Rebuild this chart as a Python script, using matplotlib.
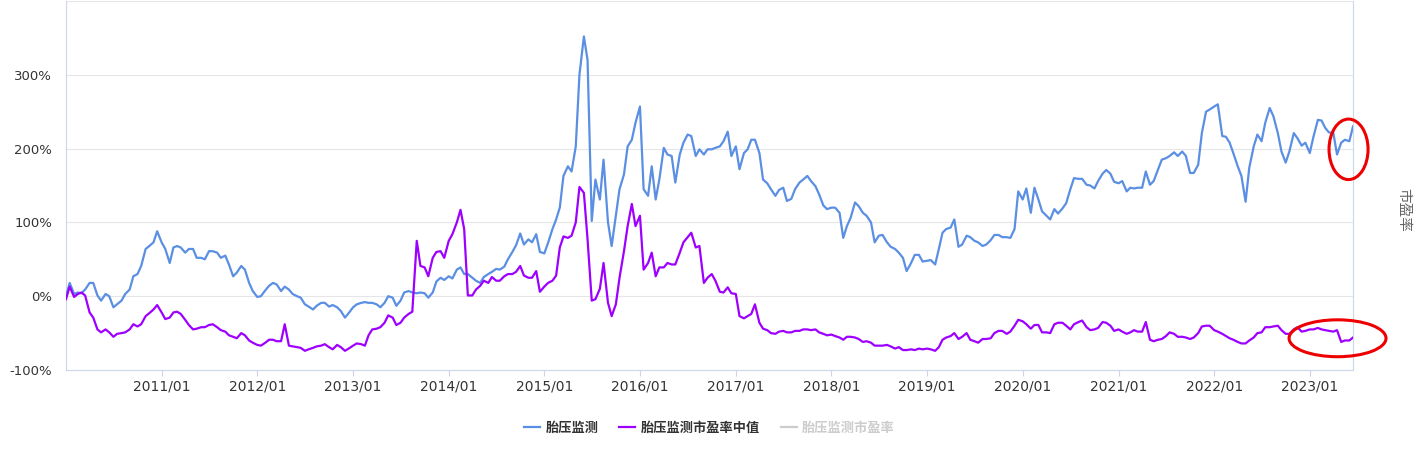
import numpy as np
import pandas as pd
import matplotlib
matplotlib.use('Agg')
import matplotlib.pyplot as plt
import matplotlib.dates as mdates
from matplotlib.patches import Ellipse
from matplotlib.lines import Line2D

plt.rcParams['font.family'] = ['DejaVu Sans', 'Noto Sans CJK SC']

# semi-monthly samples, 2010/01 .. 2023/06
dates = pd.date_range('2010-01-01', periods=324, freq='SMS')

# 胎压监测 (%)
tpms = [
    0, 18, 3, 5, 4, 9, 18, 18, 1, -6,
    3, 0, -15, -11, -6, 3, 9, 27, 30, 41,
    64, 68, 73, 88, 73, 64, 45, 66, 68, 66,
    59, 64, 64, 52, 52, 50, 61, 61, 59, 52,
    55, 43, 27, 32, 41, 36, 18, 7, -1, 0,
    8, 14, 18, 16, 7, 13, 9, 3, 0, -2,
    -11, -14, -18, -13, -9, -9, -14, -12, -15, -20,
    -29, -23, -15, -11, -9, -8, -9, -9, -11, -15,
    -9, 0, -2, -13, -6, 5, 7, 5, 4, 5,
    4, -2, 5, 20, 25, 22, 27, 24, 36, 39,
    30, 30, 25, 21, 18, 26, 30, 33, 37, 36,
    40, 50, 60, 69, 85, 70, 77, 73, 84, 60,
    58, 72, 91, 104, 120, 163, 176, 169, 203, 300,
    352, 320, 102, 158, 131, 185, 100, 68, 109, 145,
    165, 203, 212, 235, 257, 145, 136, 176, 131, 158,
    201, 192, 190, 154, 192, 208, 219, 217, 190, 199,
    192, 199, 199, 201, 203, 210, 223, 190, 203, 172,
    194, 199, 212, 212, 194, 158, 153, 145, 136, 144,
    147, 129, 132, 145, 154, 158, 163, 156, 149, 138,
    123, 118, 120, 120, 113, 79, 95, 106, 127, 122,
    113, 109, 100, 73, 82, 83, 73, 67, 64, 59,
    52, 34, 45, 56, 56, 47, 48, 49, 43, 64,
    86, 91, 93, 104, 67, 70, 82, 80, 75, 73,
    68, 70, 76, 83, 83, 80, 80, 79, 91, 142,
    131, 146, 113, 147, 131, 115, 109, 104, 118, 112,
    119, 126, 145, 160, 159, 159, 151, 150, 146, 156,
    166, 171, 166, 155, 153, 156, 142, 147, 146, 147,
    147, 169, 151, 156, 172, 185, 187, 190, 195, 190,
    196, 190, 167, 167, 178, 221, 250, 253, 257, 260,
    217, 216, 208, 194, 176, 163, 128, 174, 203, 219,
    210, 235, 255, 244, 221, 196, 181, 196, 221, 214,
    204, 208, 194, 216, 239, 238, 228, 222, 221, 192,
    208, 212, 210, 230,
]

# 胎压监测市盈率中值 (%)
pe_median = [
    -4, 13, -1, 3, 5, 1, -22, -29, -45, -49,
    -45, -49, -55, -51, -50, -49, -45, -38, -41, -38,
    -27, -23, -18, -12, -22, -31, -29, -22, -21, -24,
    -32, -39, -45, -44, -42, -42, -39, -38, -42, -46,
    -48, -53, -55, -57, -50, -53, -60, -63, -66, -67,
    -63, -59, -59, -61, -61, -38, -67, -68, -69, -70,
    -74, -72, -70, -68, -67, -65, -69, -72, -66, -69,
    -74, -71, -67, -64, -65, -67, -53, -45, -44, -42,
    -36, -26, -29, -39, -36, -29, -24, -21, 75, 41,
    39, 27, 52, 60, 61, 52, 75, 84, 100, 117,
    91, 1, 1, 9, 14, 21, 18, 26, 21, 21,
    27, 30, 30, 33, 41, 28, 25, 25, 34, 6,
    13, 18, 21, 28, 66, 81, 79, 82, 100, 148,
    140, 77, -6, -4, 10, 45, -9, -27, -11, 25,
    61, 95, 125, 95, 109, 36, 45, 59, 27, 39,
    39, 45, 43, 43, 59, 73, 80, 86, 66, 68,
    18, 25, 30, 21, 6, 5, 12, 4, 3, -27,
    -30, -27, -24, -11, -36, -44, -46, -50, -51, -48,
    -47, -49, -49, -47, -47, -45, -45, -46, -45, -49,
    -51, -53, -52, -54, -56, -59, -55, -55, -56, -58,
    -62, -61, -63, -67, -67, -67, -66, -68, -71, -69,
    -73, -73, -72, -73, -71, -72, -71, -72, -74, -69,
    -59, -56, -54, -50, -58, -55, -50, -59, -61, -63,
    -58, -58, -57, -50, -47, -47, -51, -48, -40, -32,
    -34, -38, -44, -39, -39, -49, -49, -50, -38, -36,
    -36, -40, -45, -38, -35, -33, -42, -46, -45, -43,
    -35, -36, -40, -47, -45, -48, -51, -49, -46, -48,
    -48, -35, -59, -61, -59, -58, -54, -49, -51, -55,
    -55, -56, -58, -56, -50, -41, -40, -40, -46, -48,
    -51, -54, -57, -59, -62, -64, -64, -60, -56, -50,
    -49, -42, -42, -41, -40, -46, -51, -51, -45, -42,
    -48, -47, -45, -45, -43, -45, -46, -47, -48, -46,
    -62, -60, -60, -56,
]

series_names = ['胎压监测', '胎压监测市盈率中值', '胎压监测市盈率']
y_ticks = [-100, 0, 100, 200, 300]
x_tick_years = list(range(2011, 2024))

blue = '#5a8fe3'
purple = '#9e00ff'
axis_col = '#ccd6eb'
grid_col = '#e6e6e6'
cjk = ['Noto Sans CJK SC', 'DejaVu Sans']

fig = plt.figure(figsize=(14.21, 4.49), dpi=100)
ax = fig.add_axes([66 / 1421, 79 / 449, 1287 / 1421, 369 / 449])

ax.plot(dates, tpms, color=blue, lw=1.6, zorder=3)
ax.plot(dates, pe_median, color=purple, lw=1.6, zorder=4)

ax.set_xlim(dates[0], dates[-1])
ax.set_ylim(-100, 400)
ax.set_yticks(y_ticks)
ax.set_yticklabels(['{}%'.format(v) for v in y_ticks])
for v in y_ticks[1:] + [400]:
    ax.axhline(v, color=grid_col, lw=0.8, zorder=1)

ax.set_xticks([pd.Timestamp('{}-01-01'.format(y)) for y in x_tick_years])
ax.xaxis.set_major_formatter(mdates.DateFormatter('%Y/%m'))

for s in ['left', 'bottom', 'right']:
    ax.spines[s].set_color(axis_col)
    ax.spines[s].set_linewidth(0.8)
ax.spines['top'].set_visible(False)

ax.tick_params(axis='y', length=0, pad=10, labelsize=9.5, labelcolor='#333333')
ax.tick_params(axis='x', length=4, width=0.8, color=axis_col, pad=3,
               labelsize=10, labelcolor='#333333')

# right axis title
fig.text(1403 / 1421, 1 - 210 / 449, '市盈率', rotation=270, ha='center',
         va='center', fontsize=10.5, color='#666666', family=cjk)

# red hand-drawn marks around the latest readings
marks = [
    (pd.Timestamp('2023-05-29'), 199, 149, 82),
    (pd.Timestamp('2023-04-17'), -57, 370, 50),
]
for d, v, w, h in marks:
    e = Ellipse((mdates.date2num(d), v), w, h, fill=False, edgecolor='#ee0000',
                lw=2.2, clip_on=False, zorder=6)
    ax.add_patch(e)

handles = [Line2D([], [], color=blue, lw=1.6),
           Line2D([], [], color=purple, lw=1.6),
           Line2D([], [], color='#cccccc', lw=1.6)]
leg = fig.legend(handles, series_names, loc='center', ncol=3,
                 bbox_to_anchor=(709.5 / 1421, 21 / 449), frameon=False,
                 handlelength=1.2, handletextpad=0.4, columnspacing=1.6,
                 prop={'family': cjk, 'size': 9.5, 'weight': 'bold'})
for t, c in zip(leg.get_texts(), ['#333333', '#333333', '#cccccc']):
    t.set_color(c)

fig.savefig('out.png', dpi=100)
